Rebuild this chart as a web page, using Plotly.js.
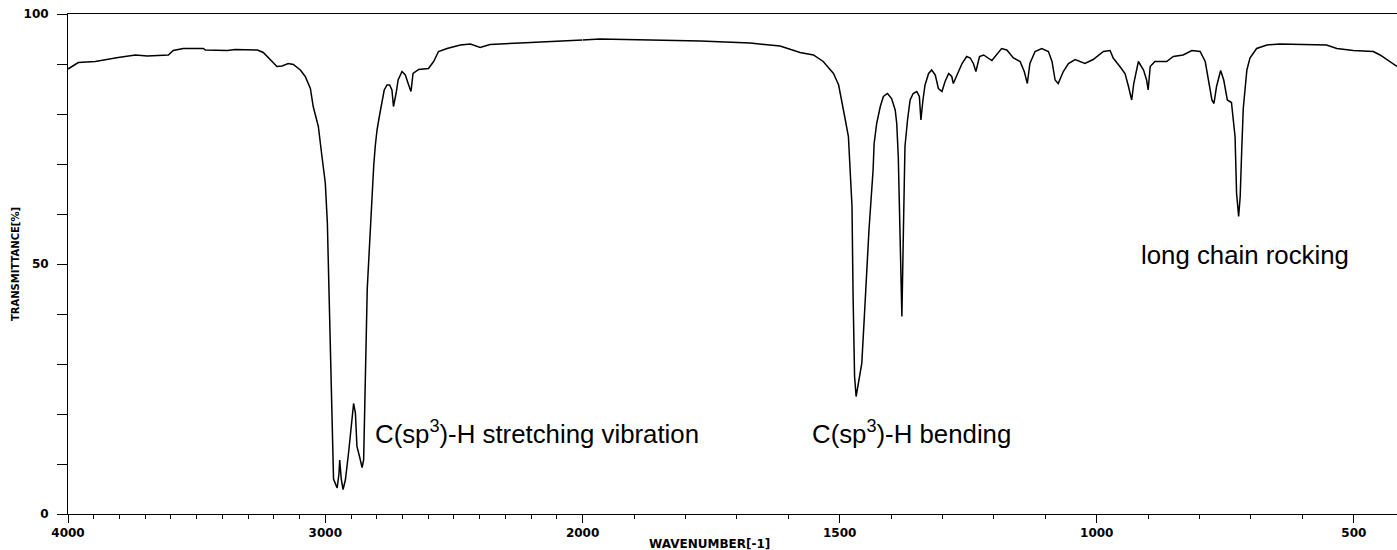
<!DOCTYPE html>
<html>
<head>
<meta charset="utf-8">
<script src="https://cdn.plot.ly/plotly-3.0.1.min.js"></script>
<style>html,body{margin:0;padding:0;background:#fff;}#chart{width:1397px;height:550px;}</style>
</head>
<body>
<div id="chart"></div>
<script>
// Wavenumber (cm-1) and transmittance (%) — high range 4000..2000
const waveHigh = [4000,3960,3894,3855,3805,3738,3692,3610,3591,3552,3474,3466,3381,3350,3264,3241,3214,3188,3168,3144,3124,3097,3078,3058,3047,3027,3013,3000,2992,2983,2974,2968,2954,2947,2944,2938,2931,2922,2909,2896,2890,2883,2877,2867,2857,2851,2845,2837,2825,2819,2812,2806,2799,2790,2780,2771,2760,2750,2741,2735,2725,2717,2702,2689,2676,2667,2659,2637,2599,2579,2560,2527,2475,2436,2398,2360,2243,2087,2000];
const transHigh = [89.0,90.3,90.5,90.9,91.3,91.8,91.6,91.8,92.7,93.1,93.1,92.8,92.7,92.9,92.8,92.3,90.8,89.5,89.6,90.1,89.9,88.8,87.5,85.1,81.5,77.5,71.5,66.2,58.2,40.0,22.0,7.0,5.2,8.0,10.8,7.0,4.9,6.8,12.5,20.2,22.1,20.2,13.5,11.5,9.3,10.8,25.5,45.0,56.8,63.5,69.5,73.5,76.8,79.5,82.8,84.8,85.8,85.8,84.8,81.5,84.1,86.8,88.5,87.8,85.8,84.5,88.1,88.9,89.1,90.5,92.5,93.1,93.8,94.0,93.3,93.9,94.2,94.6,94.8];
// low range 2000..416
const waveLow = [2000,1966,1868,1771,1674,1616,1577,1551,1532,1512,1502,1496,1489,1483,1480,1476,1474,1471,1468,1463,1457,1452,1447,1443,1439,1435,1433,1428,1421,1415,1407,1399,1392,1389,1386,1382,1379,1376,1373,1368,1363,1357,1350,1345,1342,1338,1334,1327,1321,1314,1308,1301,1295,1288,1282,1279,1272,1262,1253,1246,1240,1235,1228,1220,1204,1185,1175,1162,1149,1141,1135,1130,1120,1107,1094,1087,1081,1075,1065,1055,1042,1023,1007,987,974,968,955,945,939,932,928,919,909,903,900,896,887,864,851,832,815,799,789,783,776,772,767,759,753,746,738,731,728,724,721,718,715,708,702,689,669,644,553,533,501,462,449,416];
const transLow = [94.8,95.0,94.8,94.6,94.2,93.6,92.3,91.8,90.5,88.1,85.8,82.8,78.8,75.5,70.1,61.5,44.1,27.5,23.5,26.5,30.1,39.5,50.1,56.8,62.8,68.8,74.1,78.1,81.5,83.5,84.1,83.1,80.8,78.1,71.5,55.5,39.5,56.8,73.5,78.8,82.8,84.1,84.5,83.5,78.8,82.8,85.8,88.1,88.8,87.8,85.1,84.5,86.5,88.1,87.5,86.1,87.8,90.1,91.5,91.2,90.1,88.5,91.5,91.8,90.7,93.1,92.8,91.2,90.5,88.5,86.1,90.1,92.5,93.1,92.5,90.5,86.8,86.1,88.5,90.1,90.9,90.1,90.9,92.5,92.7,91.2,89.5,88.1,85.8,82.8,86.1,90.5,88.8,86.8,84.8,89.5,90.5,90.5,91.5,91.8,92.7,92.5,90.5,86.8,82.8,82.1,85.5,88.7,86.8,82.8,82.3,75.5,64.1,59.5,63.5,72.8,81.1,88.8,91.2,93.1,93.8,94.0,93.8,93.1,92.7,92.5,91.8,89.5];

const highTicks = [4000,3000,2000];
const highTickText = ["4000","3000","2000"];
const highHalfTicks = [3500,2500];
const lowTicks = [1500,1000,500];
const lowTickText = ["1500","1000","500"];
const yTicks = [0,50,100];
const yTickText = ["0","50","100"];
const xTitle = "WAVENUMBER[-1]";
const yTitle = "TRANSMITTANCE[%]";

const labels = [
  {text:"C(sp<sup>3</sup>)-H stretching vibration", w:2813, t:16.4, axis:"x"},
  {text:"C(sp<sup>3</sup>)-H bending", w:1557, t:16.4, axis:"x2"},
  {text:"long chain rocking", w:918, t:51.8, axis:"x2"}
];

const lineStyle = {color:"#000", width:1.5};
const traces = [
  {x:waveHigh, y:transHigh, xaxis:"x", yaxis:"y", mode:"lines", line:lineStyle, hoverinfo:"skip", showlegend:false},
  {x:waveLow, y:transLow, xaxis:"x2", yaxis:"y", mode:"lines", line:lineStyle, hoverinfo:"skip", showlegend:false}
];

const tickFont = {family:"DejaVu Sans", size:12, color:"#000", weight:700};
const split = 514.6/1329;
const minorX = {dtick:100, ticks:"outside", ticklen:4, tickwidth:1, tickcolor:"#000", showgrid:false};

const layout = {
  width:1397, height:550,
  margin:{l:68, r:0, t:14, b:36},
  paper_bgcolor:"#fff", plot_bgcolor:"#fff",
  showlegend:false,
  xaxis:{
    domain:[0, split], range:[4000,2000], anchor:"y",
    showgrid:false, zeroline:false, showline:true, mirror:true, linecolor:"#000", linewidth:1,
    tickmode:"array", tickvals:highTicks, ticktext:highTickText,
    ticks:"outside", ticklen:8, tickwidth:1, tickcolor:"#000",
    minor:minorX, tickfont:tickFont
  },
  xaxis3:{
    domain:[0, split], range:[4000,2000], anchor:"y", overlaying:"x",
    showgrid:false, zeroline:false, showline:false,
    tickmode:"array", tickvals:highHalfTicks, showticklabels:false,
    ticks:"outside", ticklen:8, tickwidth:1, tickcolor:"#000"
  },
  xaxis2:{
    domain:[split, 1], range:[2000,416], anchor:"y",
    showgrid:false, zeroline:false, showline:true, mirror:true, linecolor:"#000", linewidth:1,
    tickmode:"array", tickvals:lowTicks, ticktext:lowTickText,
    ticks:"outside", ticklen:8, tickwidth:1, tickcolor:"#000",
    minor:minorX, tickfont:tickFont
  },
  yaxis:{
    range:[0,100], anchor:"x",
    showgrid:false, zeroline:false, showline:true, linecolor:"#000", linewidth:1,
    tickmode:"array", tickvals:yTicks, ticktext:yTickText,
    ticks:"outside", ticklen:10, tickwidth:1, tickcolor:"#000",
    minor:{dtick:10, ticks:"outside", ticklen:10, tickwidth:1, tickcolor:"#000", showgrid:false},
    tickfont:tickFont, ticklabelstandoff:6,
    title:{text:yTitle, font:{family:"DejaVu Sans", size:10, color:"#000", weight:700}, standoff:2}
  },
  annotations: labels.map(a => ({
    text:a.text, x:a.w, y:a.t, xref:a.axis, yref:"y",
    xanchor:"left", yanchor:"middle", showarrow:false,
    font:{family:"Liberation Sans, Arial, sans-serif", size:25.8, color:"#000"}
  })).concat([{
    text:xTitle, x:(709-68)/1329, y:-30/500, xref:"paper", yref:"paper",
    xanchor:"center", yanchor:"middle", showarrow:false,
    font:{family:"DejaVu Sans", size:12, color:"#000", weight:700}
  }])
};

Plotly.newPlot("chart", traces, layout, {staticPlot:true, displayModeBar:false});
</script>
</body>
</html>
